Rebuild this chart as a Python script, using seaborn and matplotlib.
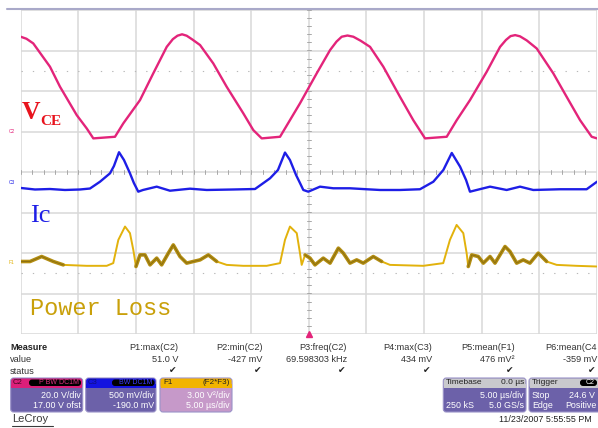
import numpy as np
import pandas as pd
import matplotlib
matplotlib.use("Agg")
import matplotlib.pyplot as plt
import seaborn as sns
from matplotlib.patches import FancyBboxPatch, Rectangle

# ================= DATOS (lectura de la captura) =================
# tiempo en microsegundos (5 us/div, 10 div)
VCE_T = [0.0, 0.5, 1.09, 2.54, 3.41, 4.86, 5.73, 6.30, 8.18, 8.90, 10.35, 11.50, 12.67,
         13.2, 13.6, 14.0, 14.4, 14.9, 15.56, 16.71, 17.87, 19.31, 20.18, 20.91, 22.50,
         23.36, 24.23, 25.68, 26.84, 27.4, 27.85, 28.35, 28.86, 29.5, 30.31, 31.46,
         32.91, 34.06, 35.08, 36.96, 37.83, 38.98, 40.43, 41.59, 42.1, 42.5, 42.9, 43.32,
         43.9, 44.77, 46.21, 47.37, 48.53, 49.54, 50.0]
VCE_V = [49.8, 48.8, 46.5, 35.0, 25.1, 11.1, 4.5, -0.4, 0.4, 7.0, 18.5, 31.7, 44.8,
         48.6, 50.3, 51.0, 50.3, 48.4, 45.7, 36.6, 25.1, 12.0, 3.7, -0.4, 0.4,
         8.6, 16.9, 31.7, 43.2, 47.4, 49.8, 50.4, 49.8, 47.8, 44.8, 35.0,
         20.1, 8.6, -0.4, 0.4, 8.6, 18.5, 32.5, 44.8, 48.2, 50.1, 50.6, 50.0,
         48.0, 44.0, 31.7, 20.1, 8.6, 0.4, -0.4]

IC_T = [0.0, 1.24, 2.54, 3.84, 5.14, 6.01, 6.88, 7.75, 8.09, 8.53, 8.96, 9.48, 9.82,
        10.20, 10.61, 11.80, 12.95, 14.69, 16.14, 18.42, 20.33, 21.63, 22.32, 22.93,
        23.36, 23.89, 24.23, 24.52, 24.95, 25.97, 27.12, 28.57, 30.02, 31.17, 32.91,
        34.64, 35.80, 36.67, 37.40, 38.12, 38.64, 38.98, 39.56, 40.72, 42.16, 43.32,
        44.47, 46.79, 49.10, 50.0]
IC_MV = [-7, -26, -20, -32, -26, -14, 70, 174, 264, 434, 338, 174, 54,
         -53, -32, 9, -41, -16, -32, -26, -20, 112, 215, 430,
         338, 153, 54, -32, -53, 9, -11, -11, -23, -32, -32,
         -23, 70, 215, 425, 256, 91, -53, -32, 9, -32, 9,
         -32, -23, -23, 70]

P_T = [0.0, 0.81, 1.82, 2.83, 3.70, 5.73, 7.46, 8.03, 8.47, 9.05, 9.48, 9.77, 10.00,
       10.35, 10.78, 11.22, 11.80, 12.23, 12.81, 13.24, 13.82, 14.40, 14.97, 15.56,
       16.28, 17.01, 17.87, 19.31, 21.34, 22.50, 22.93, 23.36, 23.95, 24.23, 24.38,
       24.67, 25.10, 25.53, 26.25, 26.84, 27.56, 27.99, 28.57, 29.15, 29.72, 30.59,
       31.32, 32.04, 34.93, 36.66, 37.24, 37.82, 38.40, 38.69, 38.83, 39.13, 39.70,
       40.14, 40.72, 41.15, 42.02, 42.45, 43.03, 43.60, 44.18, 44.90, 45.63, 46.50,
       48.23, 49.97]
P_V2 = [0.36, 0.36, 0.73, 0.36, 0.11, 0.04, 0.04, 0.24, 1.96, 2.95, 2.46, 1.22, -0.01,
        0.85, 0.85, 0.11, 0.61, 0.11, 0.98, 1.59, 0.73, 0.24, 0.36, 0.48,
        0.85, 0.36, 0.11, 0.04, 0.04, 0.24, 1.96, 2.95, 2.46, 0.98, 0.11,
        0.85, 0.61, 0.11, 0.61, 0.24, 1.35, 0.98, 0.24, 0.48, 0.24, 0.73,
        0.36, 0.11, 0.04, 0.24, 1.96, 3.07, 2.46, 0.98, -0.01, 0.85, 0.73,
        0.24, 0.73, 0.24, 1.47, 1.10, 0.24, 0.48, 0.24, 0.98, 0.36, 0.11,
        0.04, -0.01]
# tramos con oscilacion (traza gruesa)
P_NOISY = [(0.0, 3.7), (10.0, 17.5), (24.4, 31.8), (38.8, 46.3)]

# ajustes del osciloscopio (escala por division, offset en divisiones)
VCE_SCALE, VCE_OFS = 20.0, 0.85
IC_SCALE, IC_OFS = 500.0, -0.38
P_SCALE, P_OFS = 3.0, -2.33

MEAS_NAMES = ["P1:max(C2)", "P2:min(C2)", "P3:freq(C2)", "P4:max(C3)", "P5:mean(F1)", "P6:mean(C4"]
MEAS_VALUES = ["51.0 V", "-427 mV", "69.598303 kHz", "434 mV", "476 mV\u00b2", "-359 mV"]

# ================= COLORES =================
C_VCE = '#e3247a'
C_IC = '#1e1ee6'
C_P = '#e2b20c'
C_P_DARK = '#b48e12'
C_GRID = '#d8d8d8'
C_BODY = '#6c61a9'

sns.set_style("white")
plt.rcParams['font.family'] = ['Liberation Sans', 'DejaVu Sans']

W, H = 598, 428
fig = plt.figure(figsize=(W / 100, H / 100), dpi=100)
ax = fig.add_axes([20.7 / W, (H - 334) / H, 576.3 / W, 324 / H])
ax.set_xlim(0, 50)
ax.set_ylim(-4, 4)
ax.axis('off')

# reticula
for xv in np.arange(0, 51, 5):
    ax.axvline(xv, color=C_GRID, lw=1.1, zorder=0)
for yv in np.arange(-4, 5, 1):
    ax.axhline(yv, color=C_GRID, lw=1.1, zorder=0)
for yv in (2.5, -2.5):
    ax.axhline(yv, color='#b8b8b8', lw=0.8, ls=(0, (1.2, 9)), zorder=0)
for xv in np.arange(0, 50.1, 1):
    ax.plot([xv, xv], [-0.05, 0.05], color='#a8a8a8', lw=0.7, zorder=0)
for yv in np.arange(-4, 4.01, 0.2):
    ax.plot([24.8, 25.2], [yv, yv], color='#a8a8a8', lw=0.7, zorder=0)

# trazas
vce = pd.DataFrame({'t': VCE_T, 'y': np.array(VCE_V) / VCE_SCALE + VCE_OFS})
ic = pd.DataFrame({'t': IC_T, 'y': np.array(IC_MV) / IC_SCALE + IC_OFS})
pw = pd.DataFrame({'t': P_T, 'y': np.array(P_V2) / P_SCALE + P_OFS})

sns.lineplot(data=vce, x='t', y='y', ax=ax, color=C_VCE, lw=1.7, estimator=None, sort=False)
sns.lineplot(data=ic, x='t', y='y', ax=ax, color=C_IC, lw=1.7, estimator=None, sort=False)
sns.lineplot(data=pw, x='t', y='y', ax=ax, color=C_P, lw=1.4, estimator=None, sort=False)
for a, b in P_NOISY:
    seg = pw[(pw['t'] >= a) & (pw['t'] <= b)]
    sns.lineplot(data=seg, x='t', y='y', ax=ax, color=C_P_DARK, lw=2.6, estimator=None, sort=False)
    sns.lineplot(data=seg, x='t', y='y', ax=ax, color='#8c7010', lw=0.7, estimator=None, sort=False)
ax.plot([25], [-4], marker='^', ms=5, color=C_VCE, clip_on=False, zorder=5)

# ================= CAPA DE TEXTO (pixeles) =================
ov = fig.add_axes([0, 0, 1, 1])
ov.set_xlim(0, W)
ov.set_ylim(H, 0)
ov.axis('off')
ov.patch.set_alpha(0)

ov.plot([7, 598], [9.3, 9.3], color='#a9a9c9', lw=1.5)

# etiquetas de canal
ov.text(21.5, 118.5, "V", color='#e8141e', fontsize=18.5, fontweight='bold',
        family='Liberation Serif', va='baseline')
ov.text(40.5, 124.5, "CE", color='#e8141e', fontsize=11, fontweight='bold',
        family='Liberation Serif', va='baseline')
ov.text(30, 221.5, "Ic", color=C_IC, fontsize=19, family='Liberation Serif', va='baseline')
ov.text(30, 315, "Power Loss", color='#c9a00a', fontsize=17, family='Liberation Mono',
        va='baseline')
ov.text(9, 131.5, "C2", color=C_VCE, fontsize=3.5, va='center')
ov.text(9, 182, "C3", color=C_IC, fontsize=3.5, va='center')
ov.text(9, 262, "F1", color=C_P, fontsize=3.5, va='center')

# tabla de medidas
fs = 6.6
ov.text(10, 347, "Measure", fontsize=fs, fontweight='bold', va='center', color='#222222')
ov.text(10, 359, "value", fontsize=fs, va='center', color='#333333')
ov.text(10, 371, "status", fontsize=fs, va='center', color='#333333')
for name, val, xr in zip(MEAS_NAMES, MEAS_VALUES, [178, 263, 347, 432, 515, 597]):
    ov.text(xr, 347, name, fontsize=fs, ha='right', va='center', color='#333333')
    ov.text(xr, 359, val, fontsize=fs, ha='right', va='center', color='#333333')
    ov.text(xr - 5, 370.5, "\u2714", fontsize=6.5, ha='center', va='center',
            color='#222222', family='DejaVu Sans')


def caja(x0, x1, head_color, body_color, y0=378, y1=412, yh=387.5):
    ov.add_patch(FancyBboxPatch((x0, y0), x1 - x0, y1 - y0,
                                boxstyle="round,pad=0,rounding_size=3",
                                fc=body_color, ec='#9a92c8', lw=0.8))
    ov.add_patch(FancyBboxPatch((x0 + 0.5, y0 + 0.5), x1 - x0 - 1, yh - y0,
                                boxstyle="round,pad=0,rounding_size=2.5",
                                fc=head_color, ec='none'))
    ov.add_patch(Rectangle((x0 + 0.5, yh - 4), x1 - x0 - 1, 4.5, fc=head_color, ec='none'))


def pastilla(x0, x1, txt, color):
    ov.add_patch(FancyBboxPatch((x0, 379.5), x1 - x0, 6.5,
                                boxstyle="round,pad=0,rounding_size=3", fc='black', ec='none'))
    ov.text(x1 - 2, 383, txt, fontsize=5, color=color, ha='right', va='center')


bf = 6.4
caja(10.7, 82.7, '#dc1f7a', C_BODY)
ov.text(13, 383, "C2", fontsize=5.5, color='#3a0a20', va='center')
pastilla(29, 81, "P BW DC1M", '#e03080')
ov.text(80.5, 396, "20.0 V/div", fontsize=bf, color='white', ha='right', va='center')
ov.text(80.5, 406, "17.00 V ofst", fontsize=bf, color='white', ha='right', va='center')

caja(85.7, 156, '#1414e0', C_BODY)
ov.text(88, 383, "C3", fontsize=5.5, color='#10107a', va='center')
pastilla(112, 154.5, "BW DC1M", '#3a3aff')
ov.text(154, 396, "500 mV/div", fontsize=bf, color='white', ha='right', va='center')
ov.text(154, 406, "-190.0 mV", fontsize=bf, color='white', ha='right', va='center')

caja(160, 232, '#f2b400', '#c699c9')
ov.text(163, 383, "F1", fontsize=5.8, color='#222222', va='center')
ov.text(230, 383, "(F2*F3)", fontsize=5.8, color='#222222', ha='right', va='center')
ov.text(230, 396, "3.00 V\u00b2/div", fontsize=bf, color='white', ha='right', va='center')
ov.text(230, 406, "5.00 \u00b5s/div", fontsize=bf, color='white', ha='right', va='center')

caja(443.3, 526, '#c9c9cd', C_BODY)
ov.text(446, 383, "Timebase", fontsize=6, color='#222222', va='center')
ov.text(524, 383, "0.0 \u00b5s", fontsize=6, color='#222222', ha='right', va='center')
ov.text(524, 396, "5.00 \u00b5s/div", fontsize=bf, color='white', ha='right', va='center')
ov.text(446, 406, "250 kS", fontsize=bf, color='white', va='center')
ov.text(524, 406, "5.0 GS/s", fontsize=bf, color='white', ha='right', va='center')

caja(529, 606, '#c9c9cd', C_BODY)
ov.text(532, 383, "Trigger", fontsize=6, color='#222222', va='center')
pastilla(580, 597, "C2", '#ffffff')
ov.text(532, 396, "Stop", fontsize=bf, color='white', va='center')
ov.text(595, 396, "24.6 V", fontsize=bf, color='white', ha='right', va='center')
ov.text(532, 406, "Edge", fontsize=bf, color='white', va='center')
ov.text(597, 406, "Positive", fontsize=bf, color='white', ha='right', va='center')

ov.text(592, 419, "11/23/2007 5:55:55 PM", fontsize=6.4, color='#222222', ha='right', va='center')
ov.text(12, 419.5, "LeCroy", fontsize=8, color='#3a3a3a', va='center')
ov.plot([12, 53], [425.5, 425.5], color='#3a3a3a', lw=0.8)

fig.savefig("out.png", dpi=100)
